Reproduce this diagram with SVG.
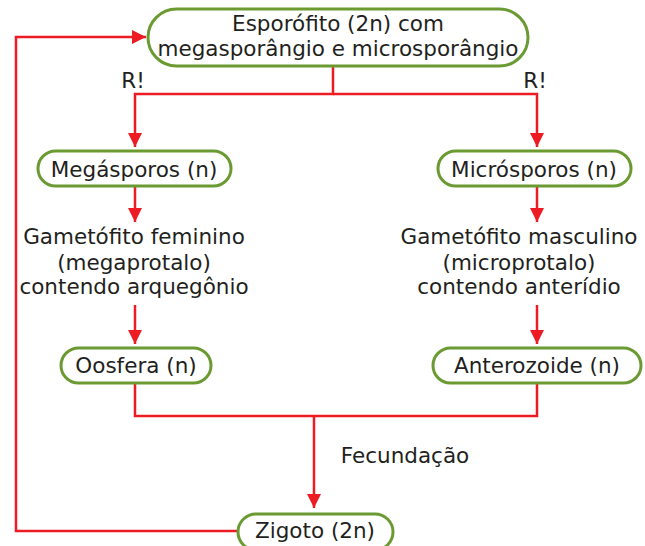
<svg xmlns="http://www.w3.org/2000/svg" width="645" height="546" viewBox="0 0 645 546">
<style>
.node{fill:#fff;stroke:#6b9a33;stroke-width:3}
.t{font-family:"DejaVu Sans","Liberation Sans",sans-serif;font-size:21.5px;fill:#231f20;text-anchor:middle}
.c{fill:none;stroke:#ed1c24;stroke-width:2.5}
</style>
<defs>
<marker id="ah" viewBox="0 0 10 10" refX="10" refY="5" markerWidth="5.6" markerHeight="5.6" markerUnits="strokeWidth" orient="auto">
<path d="M0,0 L10,5 L0,10 Z" fill="#ed1c24"/>
</marker>
</defs>
<rect width="645" height="546" fill="#fff"/>
<g id="connectors">
<polyline class="c" points="333,66 333,94 135,94 135,147" marker-end="url(#ah)"/>
<polyline class="c" points="333,94 537,94 537,147" marker-end="url(#ah)"/>
<line class="c" x1="135" y1="186" x2="135" y2="222" marker-end="url(#ah)"/>
<line class="c" x1="537" y1="186" x2="537" y2="222" marker-end="url(#ah)"/>
<line class="c" x1="135" y1="305" x2="135" y2="344" marker-end="url(#ah)"/>
<line class="c" x1="537" y1="305" x2="537" y2="344" marker-end="url(#ah)"/>
<polyline class="c" points="135,383 135,416 537,416 537,383"/>
<line class="c" x1="314" y1="416" x2="314" y2="508" marker-end="url(#ah)"/>
<polyline class="c" points="238,531 16,531 16,37 146,37" marker-end="url(#ah)"/>
<text class="t" x="133" y="88">R!</text>
<text class="t" x="535" y="88">R!</text>
<text class="t" x="405" y="463">Fecundação</text>
</g>
<g id="esporofito">
<rect class="node" x="148" y="9" width="380" height="57" rx="28.5"/>
<text class="t" x="338" y="31">Esporófito (2n) com</text>
<text class="t" x="338" y="56">megasporângio e microsporângio</text>
</g>
<g id="megasporos">
<rect class="node" x="38" y="151" width="193" height="35" rx="17.5"/>
<text class="t" x="134" y="177">Megásporos (n)</text>
</g>
<g id="microsporos">
<rect class="node" x="438" y="151" width="193" height="35" rx="17.5"/>
<text class="t" x="534" y="177">Micrósporos (n)</text>
</g>
<g id="gametofito-feminino">
<text class="t" x="134" y="244">Gametófito feminino</text>
<text class="t" x="134" y="270">(megaprotalo)</text>
<text class="t" x="134" y="294">contendo arquegônio</text>
</g>
<g id="gametofito-masculino">
<text class="t" x="519" y="244">Gametófito masculino</text>
<text class="t" x="519" y="270">(microprotalo)</text>
<text class="t" x="519" y="294">contendo anterídio</text>
</g>
<g id="oosfera">
<rect class="node" x="61" y="348" width="150" height="35" rx="17.5"/>
<text class="t" x="136" y="373">Oosfera (n)</text>
</g>
<g id="anterozoide">
<rect class="node" x="433" y="348" width="208" height="35" rx="17.5"/>
<text class="t" x="537" y="373">Anterozoide (n)</text>
</g>
<g id="zigoto">
<rect class="node" x="238" y="514" width="155" height="36" rx="18"/>
<text class="t" x="315" y="538">Zigoto (2n)</text>
</g>
</svg>
